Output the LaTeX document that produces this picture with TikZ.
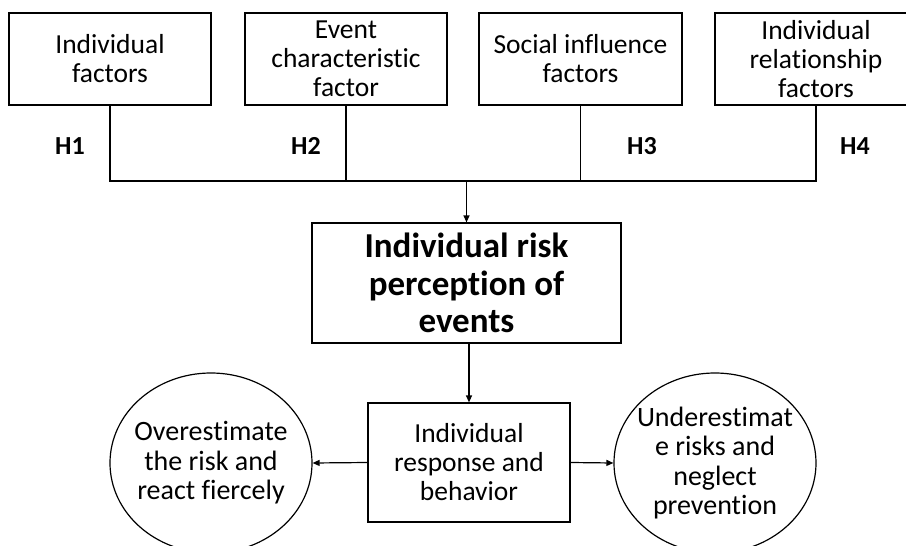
\documentclass[tikz,border=0pt]{standalone}
\usepackage{fontspec}
\setmainfont{Carlito}[Ligatures=NoCommon]
\usetikzlibrary{arrows.meta,shapes.geometric}
\tikzset{
  boxnode/.style={draw,line width=1.2pt,inner sep=0pt,align=center,font=\fontsize{27.5}{29}\selectfont},
  ellnode/.style={draw,ellipse,line width=1.2pt,inner xsep=-30pt,inner ysep=-10pt,align=center,minimum width=202pt,minimum height=180pt,font=\fontsize{28}{29.5}\selectfont},
  hlab/.style={font=\fontsize{26}{28}\selectfont\bfseries},
  conn/.style={line width=1.2pt},
  arr/.style={line width=1.2pt,-{Triangle[length=7pt,width=6pt]}}
}
\begin{document}
\begin{tikzpicture}[x=1pt,y=-1pt]
\useasboundingbox (0,0) rectangle (906,546);
\clip (0,0) rectangle (906,546);
\node[boxnode,minimum width=202pt,minimum height=92pt] (b1) at (110,59) {Individual\\factors};
\node[boxnode,minimum width=202pt,minimum height=92pt] (b2) at (346,59) {Event\\characteristic\\factor};
\node[boxnode,minimum width=203pt,minimum height=92pt] (b3) at (580.5,59) {Social influence\\factors};
\node[boxnode,minimum width=202pt,minimum height=92pt] (b4) at (816,59) {Individual\\relationship\\factors};
\node[hlab] (h1) at (70,146) {H1};
\node[hlab] (h2) at (306,146) {H2};
\node[hlab] (h3) at (642,146) {H3};
\node[hlab] (h4) at (855,146) {H4};
\coordinate (jl) at (110,181);
\node[boxnode,minimum width=309pt,minimum height=120pt,font=\fontsize{35}{37.5}\selectfont\bfseries] (c) at (466.5,283) {Individual risk\\perception of\\events};
\node[boxnode,minimum width=202pt,minimum height=119pt] (r) at (469,462.5) {Individual\\response and\\behavior};
\node[ellnode] (e1) at (211,463) {Overestimate\\the risk and\\react fiercely};
\node[ellnode] (e2) at (715,463) {Underestimat\\e risks and\\neglect\\prevention};
\draw[conn] (b1.south) -- (jl) -| (b4.south);
\draw[conn] (b2.south) -- (b2.south |- jl);
\draw[conn] (b3.south) -- (b3.south |- jl);
\draw[arr] (c.north |- jl) -- (c.north);
\draw[arr] (c.south -| r.north) -- (r.north);
\draw[arr] (r.west) -- (e1.east);
\draw[arr] (r.east) -- (e2.west);
\end{tikzpicture}
\end{document}
